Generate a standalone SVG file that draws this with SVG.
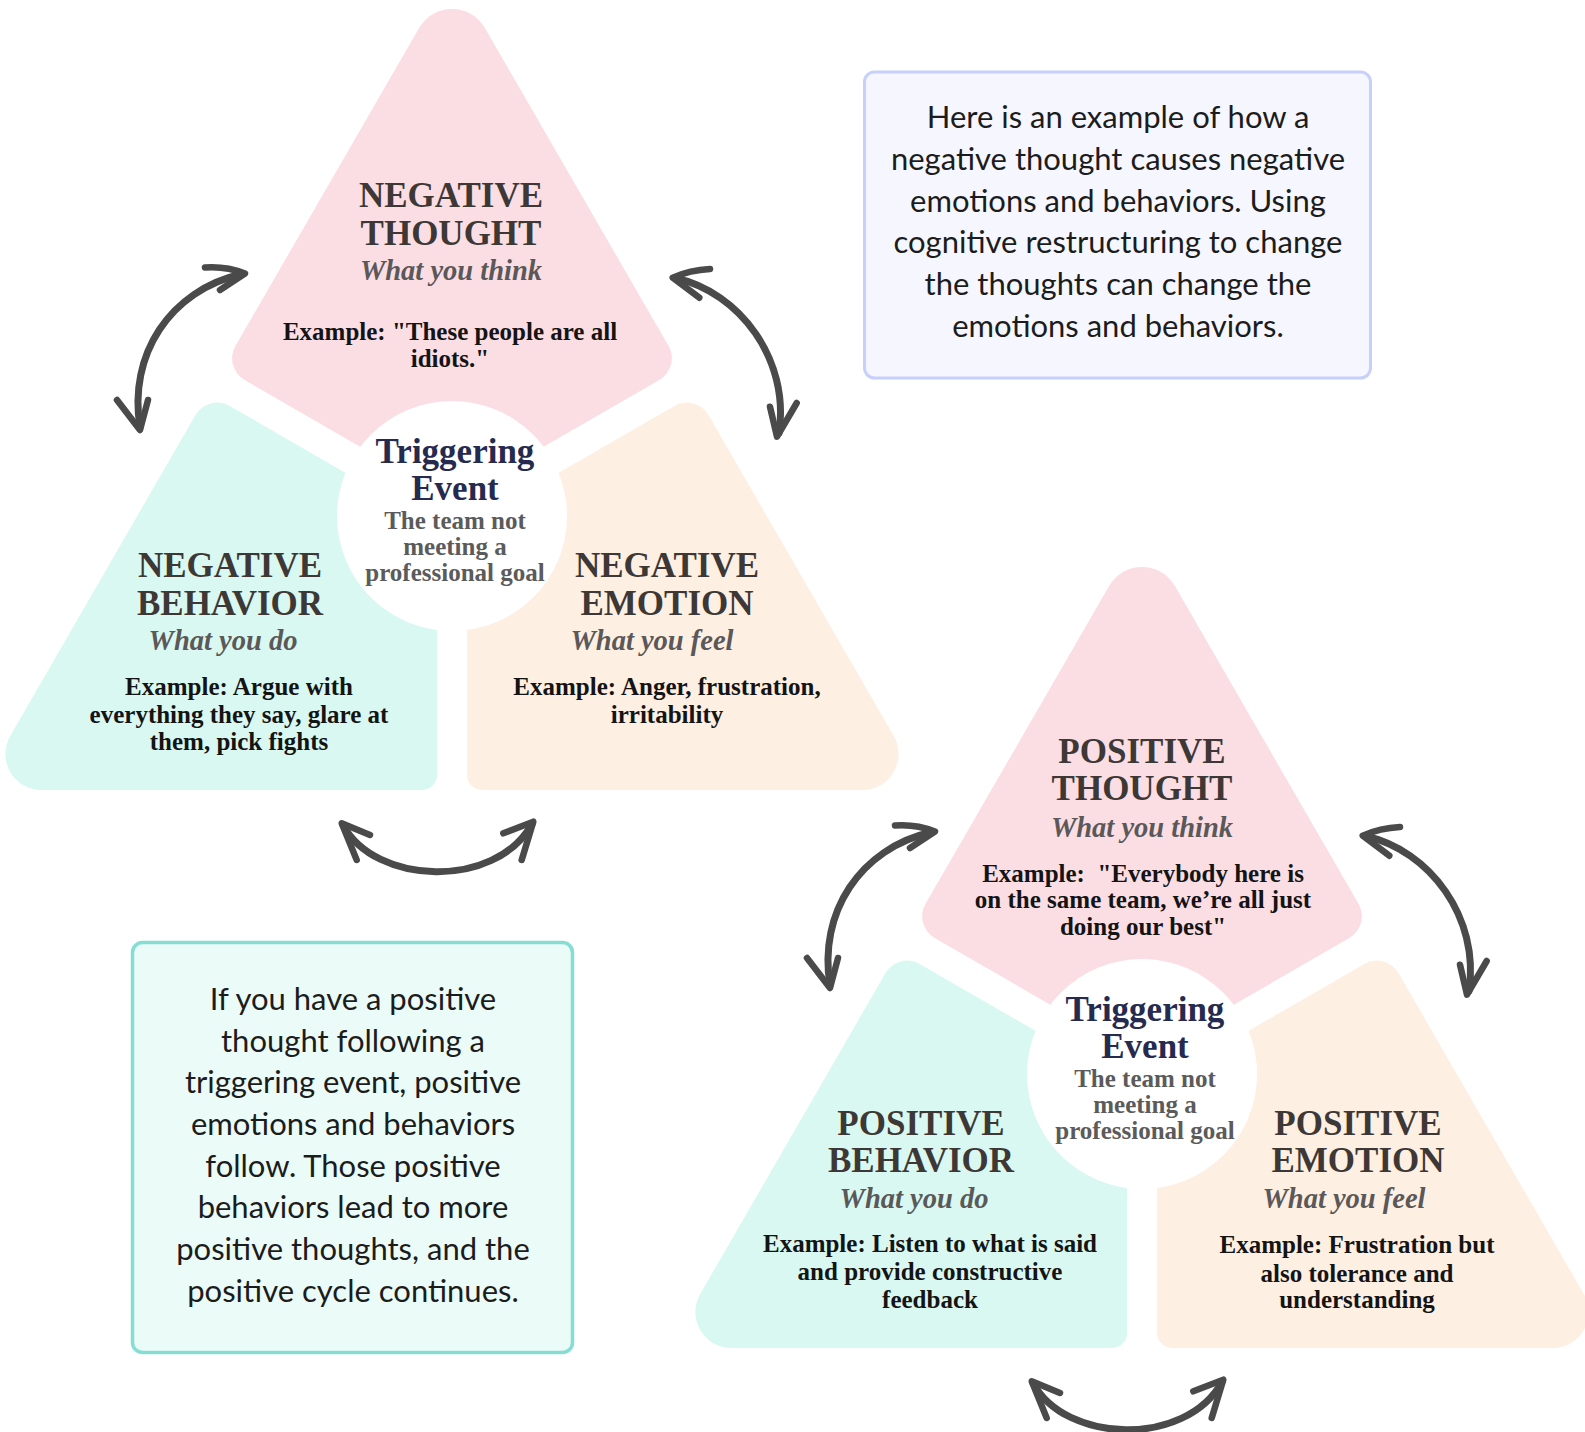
<svg xmlns="http://www.w3.org/2000/svg" xmlns:xlink="http://www.w3.org/1999/xlink" width="1585" height="1432" viewBox="0 0 1585 1432">
<style>
.pink{fill:#fbdee4}
.mint{fill:#d9f8f1}
.peach{fill:#feefe3}
.hub{fill:#ffffff}
.ttl{font-family:"Liberation Serif","DejaVu Serif",serif;font-weight:bold;font-size:35px;fill:#3d3835;text-anchor:middle}
.sub{font-family:"Liberation Serif","DejaVu Serif",serif;font-style:italic;font-weight:bold;font-size:28.5px;fill:#5a5858;text-anchor:middle}
.ex{font-family:"Liberation Serif","DejaVu Serif",serif;font-weight:bold;font-size:25px;fill:#141414;text-anchor:middle}
.trg{font-family:"Liberation Serif","DejaVu Serif",serif;font-weight:bold;font-size:35px;fill:#262a4e;text-anchor:middle}
.trs{font-family:"Liberation Serif","DejaVu Serif",serif;font-weight:bold;font-size:25px;fill:#5b5b5b;text-anchor:middle}
.box{font-family:Lato,"Open Sans",sans-serif;font-size:31px;fill:#1c1c1c;text-anchor:middle}
.arr{fill:none;stroke:#4a4a4a;stroke-width:7;stroke-linecap:round;stroke-linejoin:round}
.head{fill:none;stroke:#4a4a4a;stroke-width:6.5;stroke-linecap:round;stroke-linejoin:round}
</style>
<defs>
<path id="shape-thought" d="M419.1,28 A38,38 0 0 1 484.9,28 L668.5,345.85 A25,25 0 0 1 659.35,380 L452,499.7 L244.65,380 A25,25 0 0 1 235.5,345.85 Z"/>
<path id="shape-behavior" d="M229.65,405.9 L437,525.7 L437,775 A15,15 0 0 1 422,790 L41.35,790 A36,36 0 0 1 10.2,736 L195.5,415.05 A25,25 0 0 1 229.65,405.9 Z"/>
<path id="shape-emotion" d="M674.35,405.9 A25,25 0 0 1 708.5,415.05 L893.8,736 A36,36 0 0 1 862.65,790 L482,790 A15,15 0 0 1 467,775 L467,525.7 Z"/>
<g id="cycle-arrows">
<path class="arr" d="M140,427 C128,355 170,290 242,274"/>
<path class="head" d="M205,267.5 Q226,266 245,273.5 L220,290"/>
<path class="head" d="M117,400 L140,430 L148,400"/>
<path class="arr" d="M675,278 C740,292 790,360 779,433"/>
<path class="head" d="M710,269 Q690,270 672.7,277.7 L699.3,297.7"/>
<path class="head" d="M770,406.7 L777,436.7 L796.7,403"/>
<path class="arr" d="M343,825 C375,885 495,890 532,824"/>
<path class="head" d="M370,835 L341.7,823.3 L356.7,860"/>
<path class="head" d="M503.3,833.3 L533.3,821.7 L521.7,860"/>
</g>
</defs>
<rect width="1585" height="1432" fill="#ffffff"/>

<g id="connectors">
<use xlink:href="#cycle-arrows" href="#cycle-arrows"/>
<use xlink:href="#cycle-arrows" href="#cycle-arrows" transform="translate(690,558)"/>
</g>

<g id="negative-cycle">
<g id="negative-thought">
<use class="pink" xlink:href="#shape-thought" href="#shape-thought"/>
<text class="ttl" x="451" y="206.7">NEGATIVE</text>
<text class="ttl" x="451" y="245">THOUGHT</text>
<text class="sub" x="451" y="280">What you think</text>
<text class="ex" x="450" y="340">Example: "These people are all</text>
<text class="ex" x="450" y="366.7">idiots."</text>
</g>
<g id="negative-behavior">
<use class="mint" xlink:href="#shape-behavior" href="#shape-behavior"/>
<text class="ttl" x="230" y="576.7">NEGATIVE</text>
<text class="ttl" x="230" y="615">BEHAVIOR</text>
<text class="sub" x="223" y="650">What you do</text>
<text class="ex" x="239" y="695">Example: Argue with</text>
<text class="ex" x="239" y="723">everything they say, glare at</text>
<text class="ex" x="239" y="750">them, pick fights</text>
</g>
<g id="negative-emotion">
<use class="peach" xlink:href="#shape-emotion" href="#shape-emotion"/>
<text class="ttl" x="667" y="576.7">NEGATIVE</text>
<text class="ttl" x="667" y="615">EMOTION</text>
<text class="sub" x="652" y="650">What you feel</text>
<text class="ex" x="667" y="695">Example: Anger, frustration,</text>
<text class="ex" x="667" y="723">irritability</text>
</g>
<g id="negative-trigger">
<circle class="hub" cx="452" cy="516" r="115"/>
<text class="trg" x="455" y="463">Triggering</text>
<text class="trg" x="455" y="500">Event</text>
<text class="trs" x="455" y="529">The team not</text>
<text class="trs" x="455" y="555">meeting a</text>
<text class="trs" x="455" y="581">professional goal</text>
</g>
</g>

<g id="positive-cycle" transform="translate(690,558)">
<g id="positive-thought">
<use class="pink" xlink:href="#shape-thought" href="#shape-thought"/>
<text class="ttl" x="452" y="205.3">POSITIVE</text>
<text class="ttl" x="452" y="242">THOUGHT</text>
<text class="sub" x="452" y="278.7">What you think</text>
<text class="ex" x="453" y="323.7" style="white-space:pre">Example:  "Everybody here is</text>
<text class="ex" x="453" y="350.3">on the same team, we’re all just</text>
<text class="ex" x="453" y="377">doing our best"</text>
</g>
<g id="positive-behavior">
<use class="mint" xlink:href="#shape-behavior" href="#shape-behavior"/>
<text class="ttl" x="231" y="577">POSITIVE</text>
<text class="ttl" x="231" y="613.7">BEHAVIOR</text>
<text class="sub" x="224" y="650">What you do</text>
<text class="ex" x="240" y="693.7">Example: Listen to what is said</text>
<text class="ex" x="240" y="722">and provide constructive</text>
<text class="ex" x="240" y="750">feedback</text>
</g>
<g id="positive-emotion">
<use class="peach" xlink:href="#shape-emotion" href="#shape-emotion"/>
<text class="ttl" x="668" y="577">POSITIVE</text>
<text class="ttl" x="668" y="613.7">EMOTION</text>
<text class="sub" x="654" y="650">What you feel</text>
<text class="ex" x="667" y="695">Example: Frustration but</text>
<text class="ex" x="667" y="723.7">also tolerance and</text>
<text class="ex" x="667" y="750">understanding</text>
</g>
<g id="positive-trigger">
<circle class="hub" cx="452" cy="516" r="115"/>
<text class="trg" x="455" y="463">Triggering</text>
<text class="trg" x="455" y="500">Event</text>
<text class="trs" x="455" y="529">The team not</text>
<text class="trs" x="455" y="555">meeting a</text>
<text class="trs" x="455" y="581">professional goal</text>
</g>
</g>

<g id="note-negative">
<rect x="864.5" y="72" width="506" height="306" rx="10" fill="#f6f7fe" stroke="#c7d0fa" stroke-width="3"/>
<text class="box" x="1118" y="128.3">Here is an example of how a</text>
<text class="box" x="1118" y="170">negative thought causes negative</text>
<text class="box" x="1118" y="211.7">emotions and behaviors. Using</text>
<text class="box" x="1118" y="253.3">cognitive restructuring to change</text>
<text class="box" x="1118" y="295">the thoughts can change the</text>
<text class="box" x="1118" y="336.7">emotions and behaviors.</text>
</g>

<g id="note-positive">
<rect x="132.5" y="942.5" width="440" height="410" rx="10" fill="#ebfbf8" stroke="#86ddd4" stroke-width="3.5"/>
<text class="box" x="353" y="1010">If you have a positive</text>
<text class="box" x="353" y="1051.7">thought following a</text>
<text class="box" x="353" y="1093.3">triggering event, positive</text>
<text class="box" x="353" y="1135">emotions and behaviors</text>
<text class="box" x="353" y="1176.7">follow. Those positive</text>
<text class="box" x="353" y="1218.3">behaviors lead to more</text>
<text class="box" x="353" y="1260">positive thoughts, and the</text>
<text class="box" x="353" y="1301.7">positive cycle continues.</text>
</g>
</svg>
